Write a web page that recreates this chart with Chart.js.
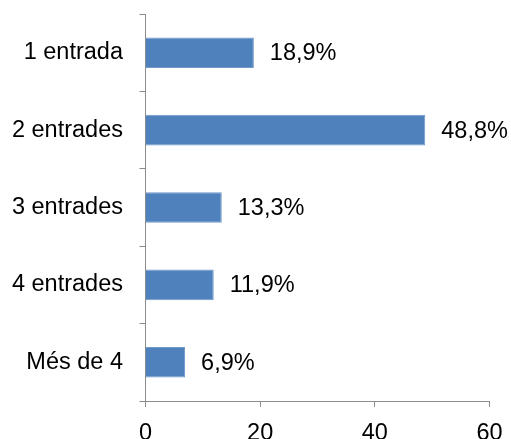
<!DOCTYPE html>
<html>
<head>
<meta charset="utf-8">
<script src="https://cdn.jsdelivr.net/npm/chart.js@4/dist/chart.umd.min.js"></script>
<style>
html,body{margin:0;padding:0;background:#fff;}
#wrap{width:511px;height:439px;position:relative;}
</style>
</head>
<body>
<div id="wrap"><canvas id="c" width="511" height="439"></canvas></div>
<script>
const categories = ["1 entrada", "2 entrades", "3 entrades", "4 entrades", "Més de 4"];
const values = [18.9, 48.8, 13.3, 11.9, 6.9];
const valueLabels = ["18,9%", "48,8%", "13,3%", "11,9%", "6,9%"];
const xTicks = [0, 20, 40, 60];

const FONT = "'Liberation Sans', Arial, sans-serif";
const FS = 23.5;

const valueLabelPlugin = {
  id: 'valueLabels',
  afterDatasetsDraw(chart) {
    const ctx = chart.ctx;
    const meta = chart.getDatasetMeta(0);
    ctx.save();
    ctx.font = FS + "px " + FONT;
    ctx.fillStyle = "#000";
    ctx.textAlign = "left";
    ctx.textBaseline = "middle";
    meta.data.forEach((bar, i) => {
      ctx.fillText(valueLabels[i], bar.x + 16, bar.y + 1);
    });
    ctx.restore();
  }
};

new Chart(document.getElementById('c'), {
  type: 'bar',
  data: {
    labels: categories,
    datasets: [{
      data: values,
      backgroundColor: '#4F81BD',
      borderColor: '#6f98cb',
      borderWidth: 1,
      barPercentage: 0.395,
      categoryPercentage: 1.0
    }]
  },
  options: {
    indexAxis: 'y',
    responsive: false,
    animation: false,
    layout: { padding: { top: 14, right: 21.5, left: 0, bottom: 0 } },
    plugins: { legend: { display: false }, tooltip: { enabled: false } },
    scales: {
      y: {
        offset: true,
        afterFit(scale) { scale.width = 145.5; scale.paddingTop = 0; scale.paddingBottom = 0; },
        grid: { offset: true, drawOnChartArea: false, drawTicks: true, tickLength: 6, color: '#8c8c8c', lineWidth: 1 },
        border: { display: true, color: '#8c8c8c', width: 1 },
        ticks: { color: '#000', font: { family: FONT, size: FS }, padding: 16.5 }
      },
      x: {
        min: 0, max: 60,
        afterFit(scale) { scale.height = 38; scale.paddingLeft = 0; scale.paddingRight = 0; },
        afterBuildTicks(scale) { scale.ticks = xTicks.map(v => ({ value: v })); },
        grid: { drawOnChartArea: false, drawTicks: true, tickLength: 6, color: '#8c8c8c', lineWidth: 1 },
        border: { display: true, color: '#8c8c8c', width: 1 },
        ticks: { color: '#000', font: { family: FONT, size: FS }, padding: 12, maxRotation: 0 }
      }
    }
  },
  plugins: [valueLabelPlugin]
});
</script>
</body>
</html>
